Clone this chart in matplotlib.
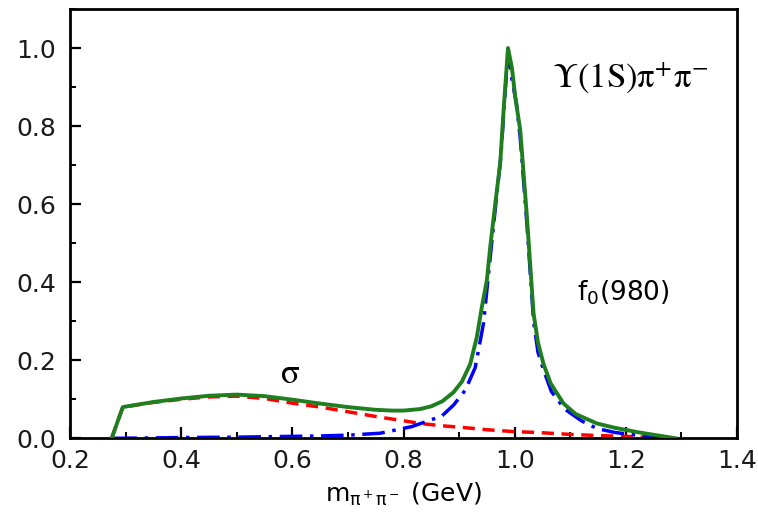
import numpy as np
import matplotlib
matplotlib.use("Agg")
import matplotlib.pyplot as plt
from matplotlib.ticker import MultipleLocator, FormatStrFormatter

# total (sigma + f0)
x_tot = [0.275, 0.295, 0.35, 0.40, 0.45, 0.50, 0.55, 0.60, 0.65, 0.70, 0.75, 0.78,
         0.80, 0.83, 0.85, 0.87, 0.89, 0.905, 0.92, 0.932, 0.941, 0.950, 0.956, 0.965,
         0.974, 0.981, 0.988, 0.995, 1.001, 1.010, 1.022, 1.034, 1.042, 1.052, 1.065,
         1.088, 1.11, 1.148, 1.18, 1.22, 1.25, 1.29]
y_tot = [0.0, 0.080, 0.093, 0.102, 0.109, 0.112, 0.108, 0.099, 0.089, 0.080, 0.073, 0.071,
         0.071, 0.075, 0.082, 0.095, 0.118, 0.145, 0.190, 0.260, 0.337, 0.405, 0.490, 0.600,
         0.705, 0.860, 1.000, 0.950, 0.875, 0.790, 0.568, 0.320, 0.245, 0.190, 0.140,
         0.089, 0.062, 0.038, 0.027, 0.016, 0.009, 0.0]

# sigma contribution
x_sig = [0.275, 0.295, 0.35, 0.40, 0.45, 0.50, 0.55, 0.60, 0.65, 0.70, 0.758, 0.80,
         0.83, 0.87, 0.905, 0.95, 1.0, 1.04, 1.10, 1.15, 1.20, 1.25, 1.28]
y_sig = [0.0, 0.080, 0.092, 0.100, 0.106, 0.108, 0.102, 0.090, 0.080, 0.068, 0.054, 0.045,
         0.038, 0.032, 0.028, 0.022, 0.017, 0.015, 0.010, 0.007, 0.005, 0.002, 0.0]

# f0(980) contribution
x_f0 = [0.28, 0.35, 0.40, 0.50, 0.60, 0.65, 0.70, 0.758, 0.815, 0.869, 0.89, 0.911,
        0.929, 0.944, 0.955, 0.966, 0.975, 0.982, 0.988, 0.995, 1.003, 1.01, 1.022,
        1.034, 1.042, 1.052, 1.066, 1.09, 1.12, 1.148, 1.18, 1.22, 1.25, 1.28]
y_f0 = [0.0, 0.001, 0.002, 0.003, 0.005, 0.006, 0.008, 0.013, 0.030, 0.057, 0.085, 0.123,
        0.181, 0.295, 0.45, 0.60, 0.72, 0.87, 0.99, 0.92, 0.86, 0.77, 0.55,
        0.30, 0.22, 0.175, 0.12, 0.075, 0.045, 0.025, 0.015, 0.008, 0.004, 0.0]

plt.rcParams['font.family'] = ['DejaVu Sans']

fig = plt.figure(figsize=(7.58, 5.13), dpi=100)
ax = fig.add_axes([70 / 758, 1 - 438.3 / 513, 667 / 758, 429.3 / 513])

ax.plot(x_sig, y_sig, color='red', lw=2.5, dashes=(3.5, 2.2), zorder=2)
ax.plot(x_f0, y_f0, color='blue', lw=2.5, dashes=(6.5, 2.2, 1, 2.2), zorder=2)
ax.plot(x_tot, y_tot, color='#1f7f1f', lw=2.8, zorder=3)

ax.set_xlim(0.2, 1.4)
ax.set_ylim(0.0, 1.1)
ax.xaxis.set_major_locator(MultipleLocator(0.2))
ax.xaxis.set_minor_locator(MultipleLocator(0.1))
ax.yaxis.set_major_locator(MultipleLocator(0.2))
ax.yaxis.set_minor_locator(MultipleLocator(0.1))
ax.xaxis.set_major_formatter(FormatStrFormatter('%.1f'))
ax.yaxis.set_major_formatter(FormatStrFormatter('%.1f'))

ax.tick_params(which='major', direction='in', length=8, width=1.6, labelsize=18,
               colors='black', labelcolor='#1a1a1a')
ax.tick_params(axis='y', which='major', pad=10)
ax.tick_params(axis='x', which='major', pad=8)
ax.tick_params(which='minor', direction='in', length=4.5, width=1.4)
for s in ax.spines.values():
    s.set_linewidth(2.0)

ax.set_xlabel(r'm$_\mathregular{\pi^+\pi^-}$ (GeV)', fontsize=18, labelpad=5)

ax.text(1.067, 0.897, r'$\mathrm{\Upsilon(1S)\pi^{+}\pi^{-}}$', fontsize=25,
        math_fontfamily='stix', ha='left', va='baseline')
ax.text(1.112, 0.354, r'f$_\mathregular{0}$(980)', fontsize=19,
        ha='left', va='baseline')
ax.text(0.596, 0.142, r'$\mathrm{\sigma}$', fontsize=25, math_fontfamily='stix',
        ha='center', va='baseline')

fig.savefig('out.png', dpi=100)
